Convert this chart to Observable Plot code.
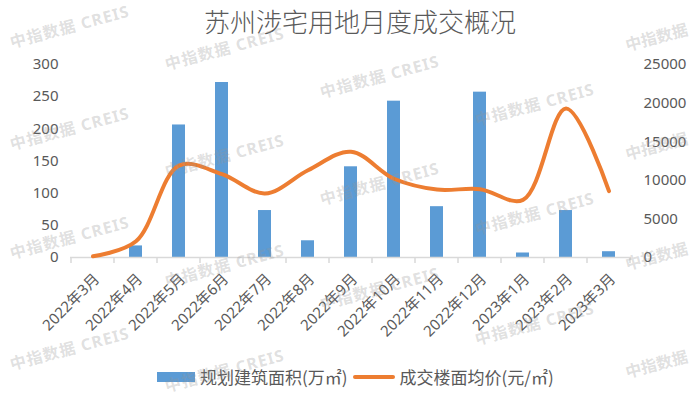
<!DOCTYPE html>
<html><head><meta charset="utf-8">
<script src="https://cdn.jsdelivr.net/npm/d3@7"></script>
<script src="https://cdn.jsdelivr.net/npm/@observablehq/plot@0.6"></script>
<style>
body{margin:0;background:#fff;}
#wrap{position:relative;width:700px;height:397px;overflow:hidden;font-family:"Noto Sans","Noto Sans CJK SC",sans-serif;background:#fff;}
#title{position:absolute;left:10px;width:700px;top:2px;text-align:center;font-size:26px;color:#5a5a5a;font-family:"Noto Sans CJK SC",sans-serif;font-weight:300;white-space:nowrap;}
#chart{position:absolute;left:0;top:0;}
#legend{position:absolute;top:364px;left:157px;display:flex;align-items:center;font-size:17px;color:#595959;font-family:"Noto Sans CJK SC",sans-serif;white-space:nowrap;}
.sw{display:inline-block;width:38px;height:10px;background:#5B9BD5;margin-right:5px;}
.ln{display:inline-block;width:42px;height:4px;border-radius:2px;background:#ED7D31;margin:0 5px 0 5px;}
#wm{position:absolute;left:0;top:0;pointer-events:none;}
</style></head>
<body>
<div id="wrap">
  <div id="chart"></div>
  <div id="title"></div>
  <div id="legend"></div>
  <svg id="wm" width="700" height="397"></svg>
</div>
<script>
const titleText = "苏州涉宅用地月度成交概况";
const months = ["2022年3月","2022年4月","2022年5月","2022年6月","2022年7月","2022年8月","2022年9月","2022年10月","2022年11月","2022年12月","2023年1月","2023年2月","2023年3月"];
const area = [0, 18, 206, 272, 73, 26, 141, 243, 79, 257, 7, 73, 9];
const price = [150, 2100, 11900, 10800, 8300, 11300, 13700, 10200, 8800, 8850, 7470, 19300, 8600];
const leftTicks = [0, 50, 100, 150, 200, 250, 300];
const rightTicks = [0, 5000, 10000, 15000, 20000, 25000];
const seriesNames = ["规划建筑面积(万㎡)", "成交楼面均价(元/㎡)"];
const watermarkText = "中指数据 CREIS";
const watermarkShort = "中指数据";

const k = 300 / 25000;
const data = months.map((m, i) => ({month: m, area: area[i], price: price[i]}));
const font = '"Noto Sans","Noto Sans CJK SC",sans-serif';

function boundaryTicks(index, scales) {
  const x = scales.x, y = scales.y;
  const bw = typeof x.bandwidth === "function" ? x.bandwidth() : x.bandwidth;
  const step = x(months[1]) - x(months[0]);
  const start = x(months[0]) - (step - bw) / 2;
  const y0 = y(0);
  const g = d3.create("svg:g").attr("stroke", "#D9D9D9").attr("stroke-width", 1.5);
  for (let i = 0; i <= months.length; i++) {
    const bx = start + i * step;
    g.append("line").attr("x1", bx).attr("x2", bx).attr("y1", y0).attr("y2", y0 + 6);
  }
  return g.node();
}

const plot = Plot.plot({
  width: 700, height: 360,
  marginLeft: 70, marginRight: 69, marginTop: 64, marginBottom: 103,
  style: {fontFamily: font, fontSize: "15px", color: "#595959", background: "transparent", overflow: "visible"},
  x: {domain: months, paddingInner: 0.7, paddingOuter: 0.35, label: null},
  y: {domain: [0, 300], label: null},
  marks: [
    Plot.barY(data, {x: "month", y: "area", fill: "#5B9BD5"}),
    Plot.ruleY([0], {stroke: "#D9D9D9", strokeWidth: 1.5}),
    boundaryTicks,
    Plot.lineY(data, {x: "month", y: d => d.price * k, stroke: "#ED7D31", strokeWidth: 4, curve: "catmull-rom"}),
    Plot.axisY(leftTicks, {anchor: "left", tickSize: 0, tickPadding: 12, label: null, fill: "#595959", fontSize: 15}),
    Plot.axisY(rightTicks.map(v => v * k), {anchor: "right", tickSize: 0, tickPadding: 12, label: null, fill: "#595959", fontSize: 15, tickFormat: d => String(Math.round(d / k))}),
    Plot.axisX({tickRotate: -45, tickSize: 0, tickPadding: 19, dx: 4, label: null, fill: "#595959", fontSize: 15})
  ]
});
document.getElementById("chart").appendChild(plot);

document.getElementById("title").textContent = titleText;
const lg = document.getElementById("legend");
lg.innerHTML = `<span class="sw"></span><span>${seriesNames[0]}</span><span class="ln"></span><span>${seriesNames[1]}</span>`;

// watermark grid (decoration)
const wmCols = [
  {cx: 70, ys: [28, 130, 239, 350]},
  {cx: 225, ys: [50, 157, 267, 372]},
  {cx: 380, ys: [78, 185, 290]},
  {cx: 535, ys: [106, 215, 325]}
];
const wmRight = [33, 142, 252, 360];
const wm = d3.select("#wm");
const wmStyle = sel => sel.attr("font-family", font).attr("font-weight", "bold").attr("font-size", 16)
  .attr("fill", "rgba(150,150,150,0.3)");
wmCols.forEach(c => c.ys.forEach(yy => {
  wm.append("text")
    .attr("transform", `translate(${c.cx},${yy}) rotate(-15)`)
    .attr("text-anchor", "middle").attr("dominant-baseline", "middle")
    .attr("letter-spacing", 1)
    .call(wmStyle).text(watermarkText);
}));
wmRight.forEach(yy => {
  wm.append("text")
    .attr("transform", `translate(626,${yy + 14}) rotate(-15)`)
    .attr("text-anchor", "start").attr("dominant-baseline", "middle")
    .call(wmStyle).text(watermarkShort);
});
</script>
</body></html>
